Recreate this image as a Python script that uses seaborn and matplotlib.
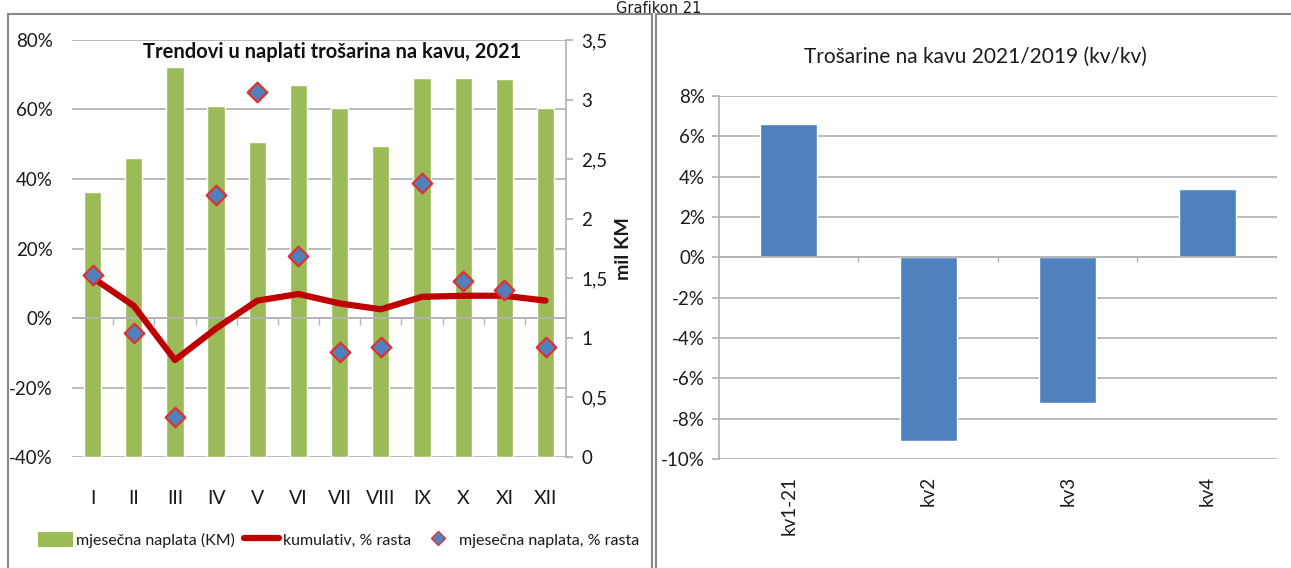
import numpy as np
import pandas as pd
import seaborn as sns
import matplotlib.pyplot as plt
from matplotlib.patches import Patch, Rectangle
from matplotlib.lines import Line2D
from matplotlib.ticker import FuncFormatter

# podaci - lijevi grafikon
mjeseci = ['I', 'II', 'III', 'IV', 'V', 'VI', 'VII', 'VIII', 'IX', 'X', 'XI', 'XII']
naplata_mil_km = [2.22, 2.51, 3.27, 2.95, 2.64, 3.12, 2.93, 2.61, 3.18, 3.18, 3.17, 2.93]
kumulativ_pct = [11.6, 3.5, -12.1, -3.0, 5.0, 6.9, 4.2, 2.5, 6.1, 6.4, 6.4, 5.0]
mjesecna_pct = [12.5, -4.4, -28.4, 35.4, 65.1, 17.8, -9.9, -8.4, 38.9, 10.7, 8.1, -8.3]

# podaci - desni grafikon
kvartali = ['kv1-21', 'kv2', 'kv3', 'kv4']
kv_pct = [6.6, -9.1, -7.2, 3.4]

sns.set_theme(style='white')
plt.rcParams['font.family'] = ['Lato', 'DejaVu Sans']

zelena = '#9BBB59'
crvena = '#C00000'
plava = '#4F81BD'
siva = '#B4B4B4'
tekst = '#1A1A1A'

df = pd.DataFrame({'mjesec': mjeseci, 'naplata': naplata_mil_km,
                   'kumulativ': kumulativ_pct, 'mjesecna': mjesecna_pct,
                   'x': np.arange(len(mjeseci))})
dk = pd.DataFrame({'kv': kvartali, 'pct': kv_pct})

fig = plt.figure(figsize=(12.91, 5.68), dpi=100)

# ---------- lijevi grafikon ----------
ax1 = fig.add_axes([0.0558, 0.1954, 0.3827, 0.7342])
ax1.set_ylim(-40, 80)
ax1.set_yticks(np.arange(-40, 81, 20))
ax1.yaxis.set_major_formatter(FuncFormatter(lambda v, p: f'{v:.0f}%'))
ax1.grid(axis='y', color=siva, lw=1.3)
ax1.set_axisbelow(True)
for s in ax1.spines.values():
    s.set_visible(False)
ax1.tick_params(axis='y', labelsize=13.5, length=0, pad=14, colors=tekst)

ax2 = ax1.twinx()
sns.barplot(data=df, x='mjesec', y='naplata', color=zelena, width=0.42,
            saturation=1, ax=ax2)
ax2.set_ylim(0, 3.5)
ax2.set_yticks(np.arange(0, 3.51, 0.5))
ax2.yaxis.set_major_formatter(FuncFormatter(lambda v, p: f'{v:g}'.replace('.', ',')))
ax2.set_ylabel('mil KM', fontsize=14, fontweight='bold', labelpad=5, color=tekst)
ax2.set_xlabel('')
for s in ['top', 'left', 'bottom']:
    ax2.spines[s].set_visible(False)
ax2.spines['right'].set_color(siva)
ax2.tick_params(axis='y', labelsize=13.5, length=5, color=siva, pad=6, labelcolor=tekst)
# oznake mjeseci crta ax1 (dijeljena x os)
ax1.tick_params(axis='x', labelsize=14, length=0, pad=24, labelcolor=tekst)
ax1.set_xlabel('')
ax2.set_xlim(-0.5, len(mjeseci) - 0.5)

ax3 = ax1.twinx()
ax3.set_ylim(-40, 80)
ax3.axis('off')
# os kategorija na 0%
ax3.axhline(0, color=siva, lw=1.3)
granice = np.arange(len(mjeseci) + 1) - 0.5
ax3.vlines(granice[1:-1], -2, 0, color=siva, lw=1)
sns.lineplot(data=df, x='x', y='kumulativ', color=crvena, lw=4.5, ax=ax3)
sns.scatterplot(data=df, x='x', y='mjesecna', marker='D', s=100, color=plava,
                edgecolor='#E03030', linewidth=1.6, ax=ax3, zorder=5)
ax3.set_xlim(-0.5, len(mjeseci) - 0.5)

fig.text(0.257, 0.9085, 'Trendovi u naplati trošarina na kavu, 2021',
         ha='center', va='center', fontsize=14.5, fontweight='bold',
         color='#111111', zorder=10)

rucke = [Patch(facecolor=zelena, edgecolor='none'),
         Line2D([], [], color=crvena, lw=4.5),
         Line2D([], [], color='none', marker='D', markersize=7,
                markerfacecolor=plava, markeredgecolor='#E03030')]
fig.legend(rucke, ['mjesečna naplata (KM)', 'kumulativ, % rasta', 'mjesečna naplata, % rasta'],
           loc='center', bbox_to_anchor=(0.262, 0.05), ncol=3, frameon=False,
           fontsize=11.5, handlelength=2.2, handleheight=1.1, handletextpad=0.2,
           columnspacing=0.6, labelcolor=tekst)

# ---------- desni grafikon ----------
ax4 = fig.add_axes([0.5569, 0.1919, 0.4322, 0.6391])
sns.barplot(data=dk, x='kv', y='pct', color=plava, width=0.41, saturation=1, ax=ax4)
ax4.set_ylim(-10, 8)
ax4.set_yticks(np.arange(-10, 8.1, 2))
ax4.yaxis.set_major_formatter(FuncFormatter(lambda v, p: f'{v:.0f}%'))
ax4.grid(axis='y', color=siva, lw=1.3)
ax4.set_axisbelow(True)
ax4.set_xlabel('')
ax4.set_ylabel('')
for s in ['top', 'right', 'bottom']:
    ax4.spines[s].set_visible(False)
ax4.spines['left'].set_color(siva)
ax4.tick_params(axis='y', labelsize=13.5, length=5, color=siva, left=True, pad=5,
                labelcolor=tekst)
ax4.tick_params(axis='x', labelsize=13.5, length=0, rotation=90, pad=12, labelcolor=tekst)
ax4.axhline(0, color=siva, lw=1.3)
ax4.vlines(np.arange(len(kvartali) + 1)[1:] - 0.5, -0.25, 0, color=siva, lw=1)
ax4.set_xlim(-0.5, len(kvartali) - 0.5)
ax4.set_title('Trošarine na kavu 2021/2019 (kv/kv)', fontsize=15, pad=24, color=tekst,
              x=0.46)

# okviri i naslov grafikona
fig.add_artist(Rectangle((0.0062, -0.05), 0.4988, 1.026, transform=fig.transFigure,
                         fill=False, edgecolor='#888888', lw=1.5))
fig.add_artist(Rectangle((0.508, -0.05), 0.6, 1.026, transform=fig.transFigure,
                         fill=False, edgecolor='#888888', lw=1.5))
fig.text(0.51, 0.999, 'Grafikon 21', ha='center', va='top', fontsize=10.5,
         family='DejaVu Sans', color=tekst)

fig.savefig('out.png', dpi=100)
